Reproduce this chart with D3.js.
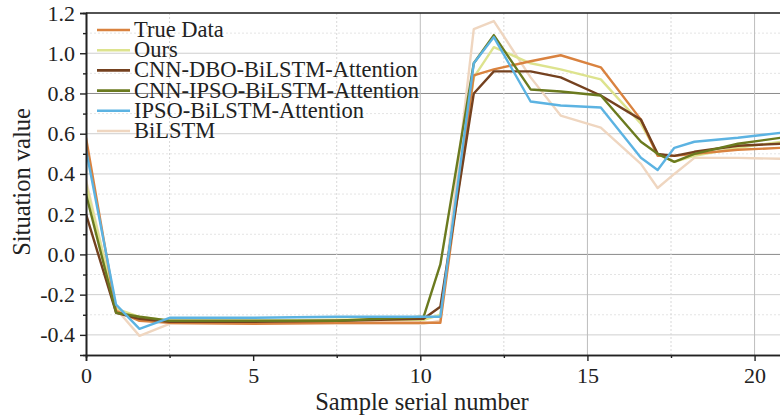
<!DOCTYPE html>
<html>
<head>
<meta charset="utf-8">
<script src="https://cdn.jsdelivr.net/npm/d3@7"></script>
<style>
  body { margin: 0; background: #fff; }
</style>
</head>
<body>
<div id="chart"></div>
<script>
// sample positions shared by every series
var samples = [0, 0.9, 1.6, 2.5, 5, 7.5, 10.1, 10.6, 11.6, 12.2, 13.3, 14.2, 15.4, 16.6, 17.1, 17.6, 18.2, 19.5, 20.8];

var seriesNames = ["True Data", "Ours", "CNN-DBO-BiLSTM-Attention", "CNN-IPSO-BiLSTM-Attention", "IPSO-BiLSTM-Attention", "BiLSTM"];
var seriesColors = ["#d9823f", "#dde38e", "#74411f", "#6b7a1f", "#5cb3e2", "#efd6c0"];

var trueData = [0.58, -0.28, -0.33, -0.34, -0.345, -0.34, -0.34, -0.34, 0.89, 0.92, 0.96, 0.99, 0.93, 0.67, 0.49, 0.49, 0.50, 0.52, 0.53];
var ours     = [0.35, -0.27, -0.31, -0.33, -0.33, -0.325, -0.325, -0.30, 0.88, 1.03, 0.95, 0.92, 0.87, 0.65, 0.50, 0.46, 0.49, 0.53, 0.56];
var cnnDbo   = [0.20, -0.29, -0.32, -0.335, -0.335, -0.33, -0.32, -0.26, 0.80, 0.91, 0.91, 0.88, 0.79, 0.67, 0.50, 0.49, 0.51, 0.54, 0.55];
var cnnIpso  = [0.30, -0.29, -0.31, -0.33, -0.33, -0.33, -0.31, -0.05, 0.95, 1.09, 0.82, 0.81, 0.79, 0.56, 0.50, 0.46, 0.50, 0.55, 0.58];
var ipso     = [0.52, -0.25, -0.37, -0.315, -0.315, -0.31, -0.31, -0.31, 0.95, 1.08, 0.76, 0.74, 0.73, 0.48, 0.42, 0.53, 0.56, 0.58, 0.605];
var bilstm   = [0.37, -0.27, -0.405, -0.345, -0.345, -0.345, -0.345, -0.33, 1.12, 1.16, 0.88, 0.69, 0.63, 0.45, 0.33, 0.40, 0.48, 0.48, 0.475];

var seriesValues = [trueData, ours, cnnDbo, cnnIpso, ipso, bilstm];
var drawOrder = [5, 1, 0, 2, 3, 4];

var yTicks = [-0.4, -0.2, 0.0, 0.2, 0.4, 0.6, 0.8, 1.0, 1.2];
var yMinor = [-0.3, -0.1, 0.1, 0.3, 0.5, 0.7, 0.9, 1.1];
var xTicks = [0, 5, 10, 15, 20];
var xMinor = [2.5, 7.5, 12.5, 17.5];
var gridXMajor = [10, 15, 20];
var gridYStrong = [0.0, 0.8];

var FONT = "Liberation Serif";

var W = 780, H = 418;
var margin = {top: 13, right: -8, bottom: 63, left: 86};
var width = W - margin.left - margin.right,
    height = H - margin.top - margin.bottom;

var svg = d3.select("#chart").append("svg")
    .attr("width", W).attr("height", H)
    .style("display", "block")
    .append("g")
    .attr("transform", "translate(" + margin.left + "," + margin.top + ")");

var x = d3.scaleLinear().domain([0, 21]).range([0, width]);
var y = d3.scaleLinear().domain([-0.5, 1.2]).range([height, 0]);

function isIn(list, d) {
    return list.some(function(v) { return Math.abs(v - d) < 1e-6; });
}

// plain hyphen for negatives, like the original figure
function fmtY(d) { return d.toFixed(1).replace("\u2212", "-"); }

// grid
var grid = svg.append("g").attr("class", "grid");
grid.selectAll("line.gy").data(yTicks.concat(yMinor))
  .enter().append("line")
    .attr("x1", 0).attr("x2", width)
    .attr("y1", function(d) { return y(d); }).attr("y2", function(d) { return y(d); })
    .attr("stroke", function(d) {
        if (isIn(gridYStrong, d)) return "#8a8a8a";
        if (isIn(yTicks, d)) return "#cfcfcf";
        return "#e4e4e4";
    })
    .attr("stroke-dasharray", function(d) { return isIn(yTicks, d) ? null : "2,2"; });
grid.selectAll("line.gx").data(gridXMajor).enter().append("line")
    .attr("y1", 0).attr("y2", height)
    .attr("x1", function(d) { return x(d); }).attr("x2", function(d) { return x(d); })
    .attr("stroke", "#bdbdbd");
grid.selectAll("line.gxm").data(xMinor).enter().append("line")
    .attr("y1", 0).attr("y2", height)
    .attr("x1", function(d) { return x(d); }).attr("x2", function(d) { return x(d); })
    .attr("stroke", "#d8d8d8").attr("stroke-dasharray", "2,2");

// lines
var line = d3.line()
    .x(function(d, i) { return x(samples[i]); })
    .y(function(d) { return y(d); });

svg.append("defs").append("clipPath").attr("id", "clip")
  .append("rect").attr("width", width).attr("height", height);

svg.append("g").attr("clip-path", "url(#clip)")
  .selectAll("path").data(drawOrder).enter().append("path")
    .attr("d", function(k) { return line(seriesValues[k]); })
    .attr("fill", "none")
    .attr("stroke", function(k) { return seriesColors[k]; })
    .attr("stroke-width", 2.4)
    .attr("stroke-linejoin", "round");

// axes
svg.append("g").attr("transform", "translate(0," + height + ")")
    .call(d3.axisBottom(x).tickValues(xTicks).tickSize(6).tickPadding(6).tickFormat(d3.format("d")));
svg.append("g").attr("transform", "translate(0," + height + ")")
    .call(d3.axisBottom(x).tickValues(xMinor).tickSize(3).tickFormat(""));
svg.append("g")
    .call(d3.axisLeft(y).tickValues(yTicks).tickSize(6).tickPadding(5).tickFormat(fmtY));
svg.append("g")
    .call(d3.axisLeft(y).tickValues(yMinor).tickSize(3).tickFormat(""));

svg.selectAll(".domain").attr("stroke", "#222").attr("stroke-width", 1.6);
svg.selectAll(".tick line").attr("stroke", "#222").attr("stroke-width", 1.4);
svg.selectAll(".tick text").attr("fill", "#222")
    .attr("font-family", FONT).attr("font-size", 22)
    .style("font-family", FONT).style("font-size", "22px");

// top border
svg.append("line").attr("x1", 0).attr("x2", width).attr("y1", 0).attr("y2", 0)
    .attr("stroke", "#222").attr("stroke-width", 1.6);

// axis titles
svg.append("text")
    .attr("x", x(10.05)).attr("y", height + 55)
    .attr("text-anchor", "middle").attr("fill", "#222")
    .style("font-family", FONT).style("font-size", "24.5px")
    .text("Sample serial number");
svg.append("text")
    .attr("transform", "translate(" + (-56) + "," + y(0.36) + ") rotate(-90)")
    .attr("text-anchor", "middle").attr("fill", "#222")
    .style("font-family", FONT).style("font-size", "24.5px")
    .text("Situation value");

// legend
var legend = svg.append("g").attr("transform", "translate(11,17)");
var item = legend.selectAll("g").data(seriesNames).enter().append("g")
    .attr("transform", function(d, i) { return "translate(0," + (i * 20.2) + ")"; });
item.append("line").attr("x1", 0).attr("x2", 33).attr("y1", 0).attr("y2", 0)
    .attr("stroke", function(d, i) { return seriesColors[i]; })
    .attr("stroke-width", 2.6);
item.append("text").attr("x", 37).attr("y", 7)
    .attr("fill", "#222")
    .style("font-family", FONT).style("font-size", "22.5px")
    .text(function(d) { return d; });
</script>
</body>
</html>
